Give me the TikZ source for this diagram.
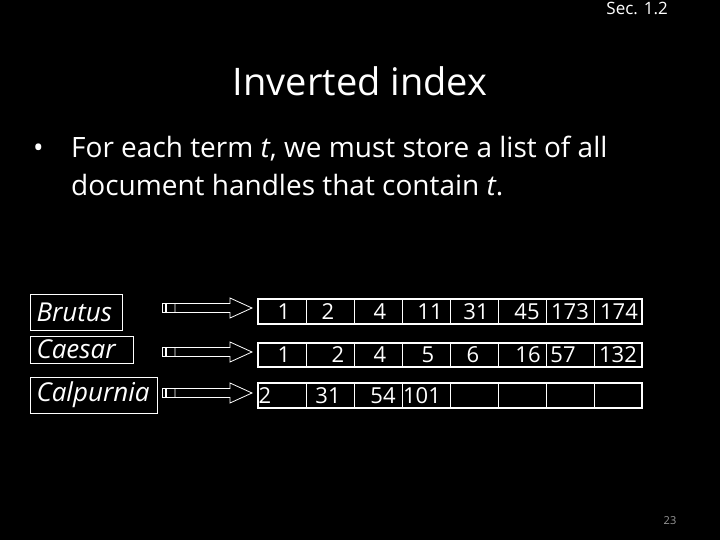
\documentclass[tikz,border=0pt]{standalone}
\usepackage{fontspec}
\setmainfont{Open Sans}
\begin{document}
\begin{tikzpicture}[x=1pt,y=-1pt,
  every node/.style={text=white,inner sep=0pt},
  termbox/.style={draw=white,line width=1pt,anchor=west,align=left,inner xsep=6pt,
    font=\fontsize{26}{30}\selectfont\itshape},
  cell/.style={draw=white,line width=0.8pt,minimum width=48pt,anchor=west},
  num/.style={font=\fontsize{22}{26}\selectfont},
  blockarrow/.style={draw=white,line width=0.8pt,fill=black}]
\fill[black] (0,0) rectangle (720,540);
\useasboundingbox (0,0) rectangle (720,540);

% header
\node[anchor=base east,font=\fontsize{17}{19}\selectfont] (sec) at (668,15) {Sec. 1.2};
\node[anchor=base,font=\fontsize{38}{44}\selectfont] (title) at (360,96) {Inverted index};
\node[anchor=base west,font=\fontsize{28}{32}\selectfont] (bul) at (33,158) {\textbullet};
\node[anchor=base west,font=\fontsize{28}{32}\selectfont] (l1) at (71,158) {For each term \textit{t}, we must store a list of all};
\node[anchor=base west,font=\fontsize{28}{32}\selectfont] (l2) at (71,196) {document handles that contain \textit{t}.};
\node[anchor=base,font=\fontsize{11}{13}\selectfont,text=gray!80] (pg) at (670,524) {23};

% terms
\node[termbox,text width=80pt,minimum height=36pt] (brutus) at (30,312) {Brutus};
\node[termbox,text width=91pt,minimum height=27pt] (caesar) at (30,349.5) {Caesar};
\node[termbox,text width=115pt,minimum height=36pt] (calp) at (30,395) {Calpurnia};

% arrows
\foreach \y/\n in {308/a1,352/a2,393/a3}{
  \draw[white,line width=0.8pt] (162,\y-4.5) rectangle (165,\y+4.5);
  \draw[white,line width=0.8pt] (166.5,\y-4.5) rectangle (175,\y+4.5);
  \draw[blockarrow] (175,\y-4.5) -- (230,\y-4.5) -- (230,\y-10) -- (252,\y) -- (230,\y+10) -- (230,\y+4.5) -- (175,\y+4.5) -- cycle;
}

% postings
\foreach \i in {0,...,7}{
  \node[cell,minimum height=25pt] (r1c\i) at (258+48*\i,311.5) {};
  \node[cell,minimum height=24pt] (r2c\i) at (258+48*\i,355) {};
  \node[cell,minimum height=25pt] (r3c\i) at (258+48*\i,395.5) {};
}
\draw[white,line width=2pt] (258,299) rectangle (642,324);
\draw[white,line width=2pt] (258,343) rectangle (642,367);
\draw[white,line width=2pt] (258,383) rectangle (642,408);

\foreach \x/\v in {284/1,328/2,380/4,430/11,476/31,527/45,570/173,619/174}
  \node[num,anchor=base] at (\x,319.5) {\v};
\foreach \x/\v in {284/1,338/2,380/4,428/5,473/6,528/16,563/57,618/132}
  \node[num,anchor=base] at (\x,362.5) {\v};
\foreach \x/\v in {265/2,328/31,383/54,422/101}
  \node[num,anchor=base] at (\x,403.5) {\v};
\end{tikzpicture}
\end{document}
